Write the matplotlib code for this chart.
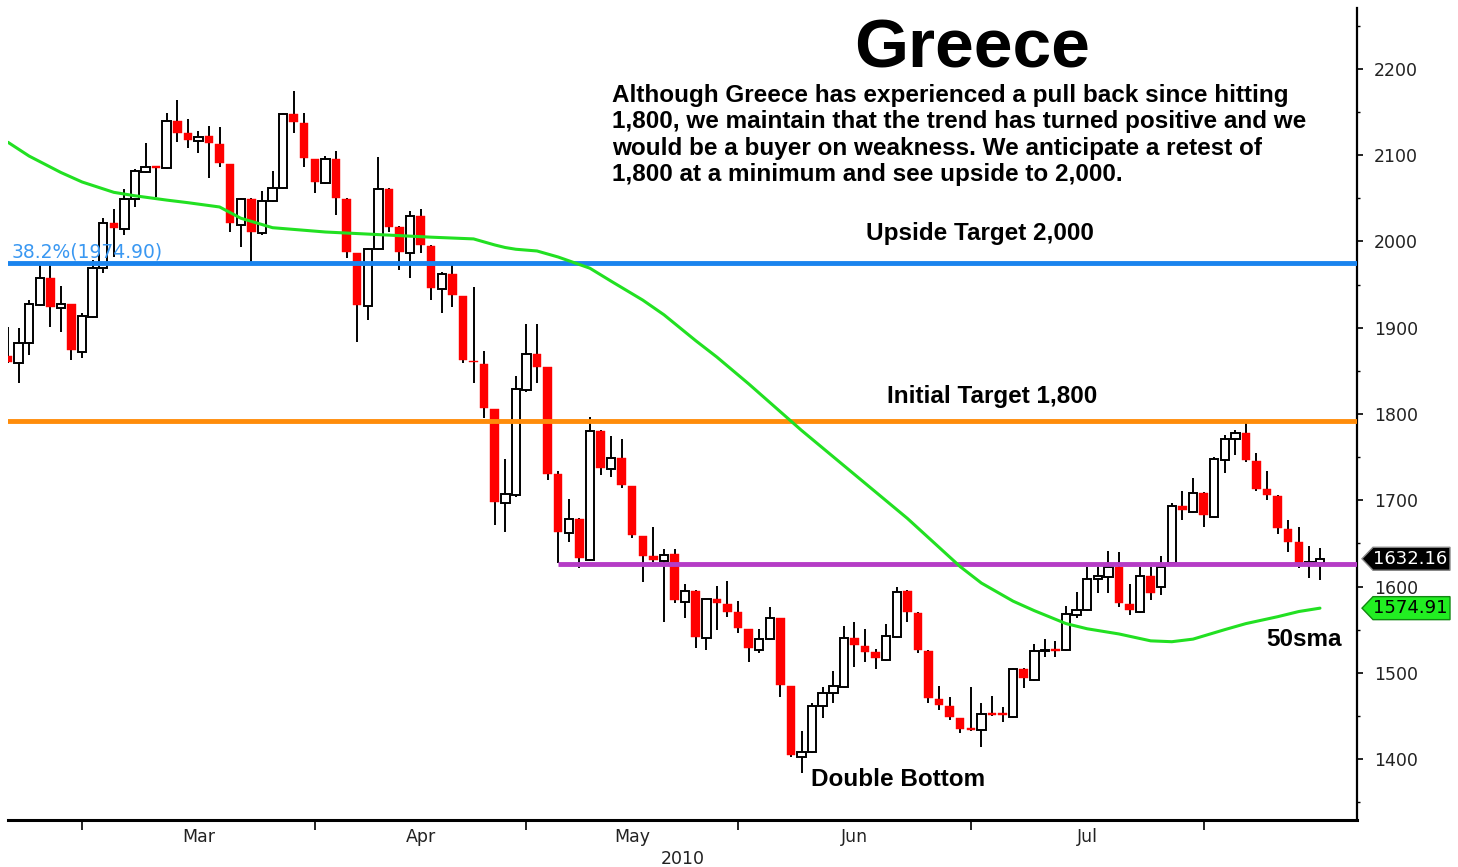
import numpy as np
import pandas as pd
import matplotlib
matplotlib.use('Agg')
import matplotlib.pyplot as plt
from matplotlib.patches import Rectangle, Polygon
from matplotlib.transforms import IdentityTransform
from matplotlib.ticker import FixedLocator, NullFormatter, FixedFormatter

W, H, DPI = 1458, 867, 100

# ---------------- data ----------------
holidays = ['2010-02-15', '2010-03-25', '2010-04-02', '2010-04-05', '2010-05-24']
dates = pd.bdate_range('2010-02-18', '2010-08-17', freq='C', holidays=holidays)

opens = [1867, 1859, 1882, 1926, 1958, 1923, 1927, 1872, 1912, 1969,
         2021, 2014, 2049, 2080, 2087, 2085, 2140, 2126, 2116, 2122,
         2113, 2090, 2019, 2049, 2010, 2047, 2062, 2148, 2137, 2096,
         2068, 2096, 2049, 1987, 1925, 1991, 2061, 2017, 1987, 2030,
         1995, 1945, 1962, 1937, 1862, 1858, 1806, 1697, 1706, 1828,
         1870, 1854, 1730, 1662, 1678, 1631, 1780, 1736, 1749, 1716,
         1659, 1635, 1630, 1638, 1582, 1595, 1540, 1585, 1580, 1570,
         1551, 1526, 1539, 1563, 1485, 1402, 1408, 1461, 1476, 1483,
         1540, 1531, 1524, 1515, 1541, 1595, 1569, 1525, 1470, 1461,
         1448, 1435, 1434, 1452, 1452, 1449, 1504, 1492, 1525, 1527,
         1526, 1567, 1573, 1609, 1611, 1623, 1580, 1570, 1612, 1599,
         1627, 1693, 1686, 1708, 1681, 1747, 1771, 1778, 1745, 1713,
         1705, 1667, 1652, 1626, 1627]
highs = [1901, 1900, 1932, 1973, 1973, 1948, 1928, 1917, 1979, 2027,
         2038, 2061, 2084, 2114, 2088, 2149, 2164, 2142, 2128, 2134,
         2133, 2090, 2050, 2050, 2059, 2082, 2149, 2175, 2149, 2096,
         2099, 2105, 2050, 1987, 1993, 2098, 2062, 2018, 2035, 2038,
         1996, 1965, 1973, 1937, 1947, 1873, 1806, 1748, 1844, 1904,
         1904, 1855, 1734, 1701, 1679, 1797, 1781, 1775, 1771, 1717,
         1659, 1669, 1643, 1643, 1603, 1596, 1586, 1601, 1606, 1583,
         1551, 1551, 1576, 1564, 1485, 1432, 1465, 1483, 1502, 1554,
         1559, 1551, 1528, 1556, 1599, 1596, 1570, 1526, 1485, 1472,
         1448, 1483, 1465, 1473, 1460, 1505, 1505, 1533, 1539, 1537,
         1577, 1594, 1623, 1623, 1641, 1640, 1603, 1623, 1623, 1635,
         1697, 1711, 1726, 1709, 1750, 1776, 1782, 1790, 1755, 1734,
         1706, 1677, 1669, 1647, 1645]
lows = [1859, 1836, 1868, 1925, 1901, 1895, 1863, 1865, 1911, 1963,
        1982, 2007, 2040, 2079, 2052, 2084, 2115, 2108, 2103, 2074,
        2086, 2011, 1994, 1976, 2007, 2046, 2061, 2126, 2086, 2056,
        2067, 2031, 1981, 1883, 1909, 1990, 2011, 1967, 1958, 1987,
        1932, 1917, 1924, 1859, 1836, 1795, 1671, 1663, 1704, 1825,
        1836, 1723, 1627, 1652, 1621, 1629, 1729, 1727, 1714, 1656,
        1605, 1628, 1559, 1581, 1563, 1529, 1526, 1550, 1565, 1546,
        1512, 1523, 1538, 1472, 1402, 1384, 1407, 1448, 1465, 1482,
        1507, 1512, 1504, 1514, 1540, 1559, 1523, 1465, 1457, 1445,
        1430, 1433, 1414, 1450, 1443, 1448, 1482, 1491, 1518, 1518,
        1525, 1563, 1572, 1592, 1592, 1576, 1567, 1569, 1584, 1590,
        1626, 1677, 1685, 1669, 1680, 1732, 1752, 1744, 1711, 1700,
        1661, 1640, 1621, 1610, 1608]
closes = [1860, 1882, 1927, 1958, 1924, 1927, 1874, 1914, 1969, 2021,
          2016, 2049, 2082, 2086, 2085, 2140, 2126, 2118, 2121, 2114,
          2091, 2021, 2049, 2011, 2047, 2062, 2148, 2139, 2097, 2069,
          2096, 2050, 1988, 1926, 1991, 2061, 2017, 1988, 2030, 1996,
          1946, 1962, 1938, 1863, 1860, 1807, 1698, 1707, 1829, 1870,
          1854, 1730, 1663, 1678, 1633, 1780, 1737, 1749, 1718, 1660,
          1635, 1631, 1636, 1584, 1595, 1541, 1585, 1581, 1570, 1552,
          1529, 1539, 1563, 1486, 1405, 1408, 1461, 1476, 1485, 1540,
          1532, 1524, 1517, 1543, 1594, 1570, 1526, 1471, 1463, 1449,
          1435, 1434, 1452, 1451, 1451, 1504, 1494, 1525, 1526, 1525,
          1568, 1573, 1609, 1612, 1623, 1581, 1573, 1612, 1592, 1623,
          1693, 1689, 1708, 1683, 1748, 1771, 1778, 1747, 1713, 1706,
          1668, 1652, 1627, 1628, 1632.16]

# 50-day simple moving average read at selected sessions
sma_idx = [0, 2, 5, 7, 10, 12, 15, 17, 20, 22, 25, 27, 30, 35, 40, 42, 44, 46,
           47, 48, 50, 52, 55, 57, 60, 62, 65, 67, 70, 75, 80, 85, 90, 92, 95,
           97, 100, 102, 105, 108, 110, 112, 115, 117, 120, 122, 124]
sma_val = [2115, 2099, 2080, 2069, 2057, 2053, 2048, 2045, 2040, 2027, 2016,
           2014, 2011, 2008, 2005, 2004, 2003, 1996, 1993, 1991, 1989, 1982,
           1969, 1954, 1932, 1915, 1885, 1866, 1835, 1781, 1730, 1679, 1623,
           1604, 1583, 1572, 1557, 1551, 1545, 1537, 1536, 1539, 1550, 1557,
           1565, 1571, 1574.91]

fib_level = 1974.90
initial_target = 1792
support_level = 1626
support_start = 52
last_price = 1632.16
last_sma = 1574.91

title = 'Greece'
comment = ['Although Greece has experienced a pull back since hitting',
           '1,800, we maintain that the trend has turned positive and we',
           'would be a buyer on weakness. We anticipate a retest of',
           '1,800 at a minimum and see upside to 2,000.']

# ---------------- figure ----------------
fig = plt.figure(figsize=(W / DPI, H / DPI), dpi=DPI)
fig.patch.set_facecolor('white')
ax = fig.add_axes([8 / W, (H - 820) / H, (1357 - 8) / W, (820 - 8) / H])
ax.set_xlim(0, 127.5)
ax.set_ylim(1329.3, 2270.7)

n = len(closes)
x = np.arange(n)
o = np.array(opens, float); h = np.array(highs, float)
l = np.array(lows, float); c = np.array(closes, float)

ax.vlines(x, l, h, color='black', lw=1.4, zorder=2)
bw = 0.8
for i in range(n):
    bottom = min(o[i], c[i])
    height = max(abs(c[i] - o[i]), 1.8)
    if c[i] < o[i]:
        r = Rectangle((i - bw / 2, bottom), bw, height, facecolor='#ff0000',
                      edgecolor='#ff0000', lw=0.3, zorder=3)
    else:
        r = Rectangle((i - bw / 2, bottom), bw, height, facecolor='white',
                      edgecolor='black', lw=1.4, zorder=3)
    ax.add_patch(r)

ax.axhline(fib_level, color='#1a84ee', lw=3.5, zorder=5)
ax.axhline(initial_target, color='#ff8c0a', lw=3.5, zorder=5)
ax.hlines(support_level, support_start, 127.5, color='#b53cc6', lw=3.5, zorder=5)
ax.plot(sma_idx, sma_val, color='#22e022', lw=2.2, zorder=6,
        solid_capstyle='round', solid_joinstyle='round')

# axes styling
for s in ['left', 'top']:
    ax.spines[s].set_visible(False)
ax.spines['right'].set_linewidth(1.6)
ax.spines['bottom'].set_linewidth(2.2)
ax.yaxis.tick_right()
ax.yaxis.set_major_locator(FixedLocator(np.arange(1400, 2201, 100)))
ax.yaxis.set_minor_locator(FixedLocator(np.arange(1350, 2251, 50)))
ax.tick_params(axis='y', which='major', length=4, width=1.2, pad=8,
               labelsize=12.5, labelcolor='#222222')
ax.tick_params(axis='y', which='minor', length=2.5, width=1.0)

month_starts = [i for i in range(1, n) if dates[i].month != dates[i - 1].month]
ax.xaxis.set_major_locator(FixedLocator(month_starts))
ax.xaxis.set_major_formatter(NullFormatter())
mids = [(month_starts[k] + month_starts[k + 1]) / 2 for k in range(len(month_starts) - 1)]
mlabels = [dates[month_starts[k]].strftime('%b') for k in range(len(month_starts) - 1)]
ax.xaxis.set_minor_locator(FixedLocator(mids))
ax.xaxis.set_minor_formatter(FixedFormatter(mlabels))
ax.tick_params(axis='x', which='major', length=7, width=1.2)
ax.tick_params(axis='x', which='minor', length=0, pad=6, labelsize=12.5,
               labelcolor='#222222')


def fx(px):
    return px / W


def fy(py):
    return 1 - py / H


fig.text(fx(682.5), fy(864), '2010', ha='center', va='baseline', fontsize=12.5,
         color='#222222')

bold = dict(fontweight='bold', family='Liberation Sans', color='black')
fig.text(fx(972), fy(68), title, ha='center', va='baseline', fontsize=50, **bold)
for k, line in enumerate(comment):
    fig.text(fx(612), fy(102 + 26.3 * k), line, ha='left', va='baseline',
             fontsize=17.5, **bold)
fig.text(fx(980), fy(240), 'Upside Target 2,000', ha='center', va='baseline',
         fontsize=17.5, **bold)
fig.text(fx(992), fy(403), 'Initial Target 1,800', ha='center', va='baseline',
         fontsize=17.5, **bold)
fig.text(fx(898), fy(786), 'Double Bottom', ha='center', va='baseline',
         fontsize=17.5, **bold)
fig.text(fx(1304), fy(646), '50sma', ha='center', va='baseline',
         fontsize=17.5, **bold)
fig.text(fx(12), fy(258), '38.2%(1974.90)', ha='left', va='baseline',
         fontsize=13.5, color='#3a98f2')


# value tags on the right axis
def tag(value, face, edge, tcolor):
    yd = ax.transData.transform((0, value))[1]
    hh = 11.5
    pts = [(1362, yd), (1373, yd + hh), (1450, yd + hh), (1450, yd - hh), (1373, yd - hh)]
    poly = Polygon(pts, closed=True, facecolor=face, edgecolor=edge, lw=1.0,
                   transform=IdentityTransform(), zorder=10)
    fig.add_artist(poly)
    fig.text(1410 / W, yd / H, f'{value:.2f}', ha='center', va='center',
             fontsize=13, color=tcolor, zorder=11)


tag(last_price, 'black', '#888888', 'white')
tag(last_sma, '#22ee22', '#118811', 'black')

fig.savefig('out.png', dpi=DPI, facecolor='white')
